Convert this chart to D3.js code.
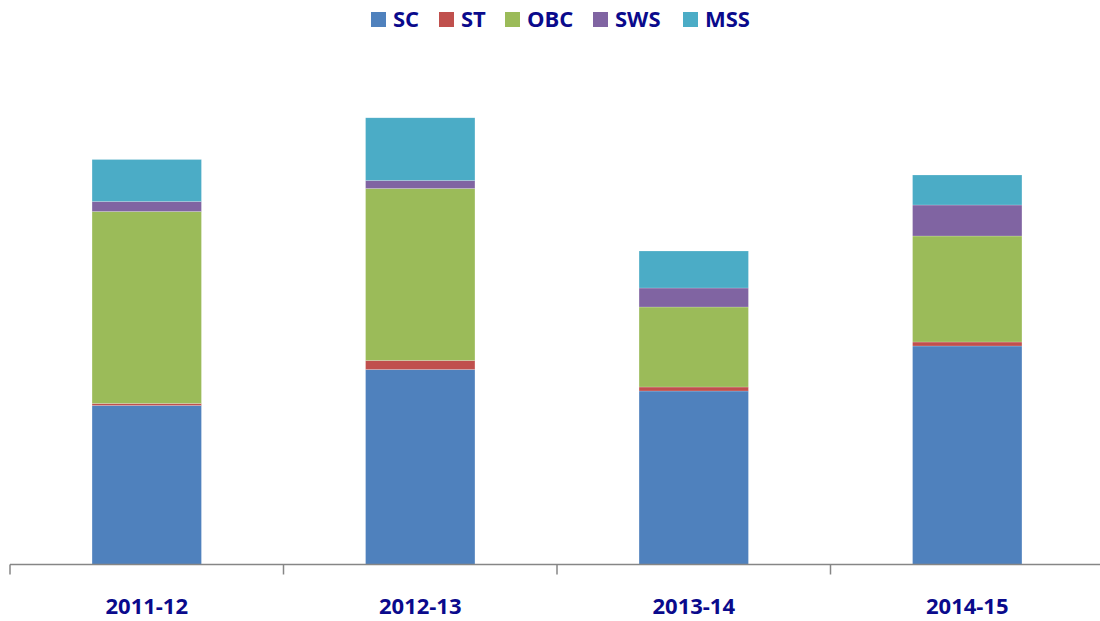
<!DOCTYPE html>
<html>
<head>
<meta charset="utf-8">
<script src="https://cdn.jsdelivr.net/npm/d3@7"></script>
<style>
  body { margin: 0; background: #fff; }
  svg text { font-family: "Open Sans", sans-serif; font-weight: bold; fill: #0a0a8c; }
</style>
</head>
<body>
<svg id="chart"></svg>
<script>
// DATA (no y axis shown)
const years = ["2011-12", "2012-13", "2013-14", "2014-15"]
const series = ["SC", "ST", "OBC", "SWS", "MSS"]
const sc  = [159, 195, 173.5, 218.5]
const st  = [2, 9, 4, 4]
const obc = [192, 172, 80, 106]
const sws = [10, 8, 19, 31]
const mss = [42, 62.7, 37, 30]
const colors = ["#4f81bd", "#c0504d", "#9bbb59", "#8064a2", "#4bacc6"]

const width = 1100
const height = 621

const svg = d3.select("#chart").attr("width", width).attr("height", height)

const rows = years.map(function(y, i) {
	return {year: y, SC: sc[i], ST: st[i], OBC: obc[i], SWS: sws[i], MSS: mss[i]}
})

const stacked = d3.stack().keys(series)(rows)

const x = d3.scaleBand()
	.domain(years)
	.range([10, 1104])
	.paddingInner(0.6)
	.paddingOuter(0.3)

const y = d3.scaleLinear()
	.domain([0, 500])
	.range([564.5, 64.5])

const color = d3.scaleOrdinal().domain(series).range(colors)

// bars
svg.append("g")
	.selectAll("g")
	.data(stacked)
	.join("g")
		.attr("fill", function(d) { return color(d.key) })
	.selectAll("rect")
	.data(function(d) { return d })
	.join("rect")
		.attr("x", function(d) { return x(d.data.year) })
		.attr("y", function(d) { return y(d[1]) })
		.attr("width", x.bandwidth())
		.attr("height", function(d) { return y(d[0]) - y(d[1]) })
		.attr("stroke", "#fff")
		.attr("stroke-opacity", 0.4)
		.attr("stroke-width", 0.5)

// x axis: line plus ticks between categories
const step = x.step()
const bounds = years.map(function(d) { return x(d) - x.paddingInner() * step / 2 })
bounds.push(bounds[bounds.length - 1] + step)

const axis = svg.append("g")
axis.append("line")
	.attr("x1", x.range()[0]).attr("x2", x.range()[1])
	.attr("y1", y(0)).attr("y2", y(0))
	.attr("stroke", "#868686").attr("stroke-width", 1.5)

axis.selectAll(".tick")
	.data(bounds)
	.join("line")
		.attr("class", "tick")
		.attr("x1", function(d) { return d }).attr("x2", function(d) { return d })
		.attr("y1", y(0)).attr("y2", y(0) + 10)
		.attr("stroke", "#868686").attr("stroke-width", 1.5)

axis.selectAll("text")
	.data(years)
	.join("text")
		.attr("x", function(d) { return x(d) + x.bandwidth() / 2 })
		.attr("y", 614)
		.attr("text-anchor", "middle")
		.style("font-size", "22px")
		.text(function(d) { return d })

// legend
const legendX = [371, 439, 505, 593, 683]
const legend = svg.append("g")
	.selectAll("g")
	.data(series)
	.join("g")
		.attr("transform", function(d, i) { return "translate(" + legendX[i] + ",0)" })

legend.append("rect")
	.attr("y", 12)
	.attr("width", 15)
	.attr("height", 15)
	.attr("fill", function(d) { return color(d) })

legend.append("text")
	.attr("x", 22)
	.attr("y", 27)
	.style("font-size", "22px")
	.text(function(d) { return d })
</script>
</body>
</html>
